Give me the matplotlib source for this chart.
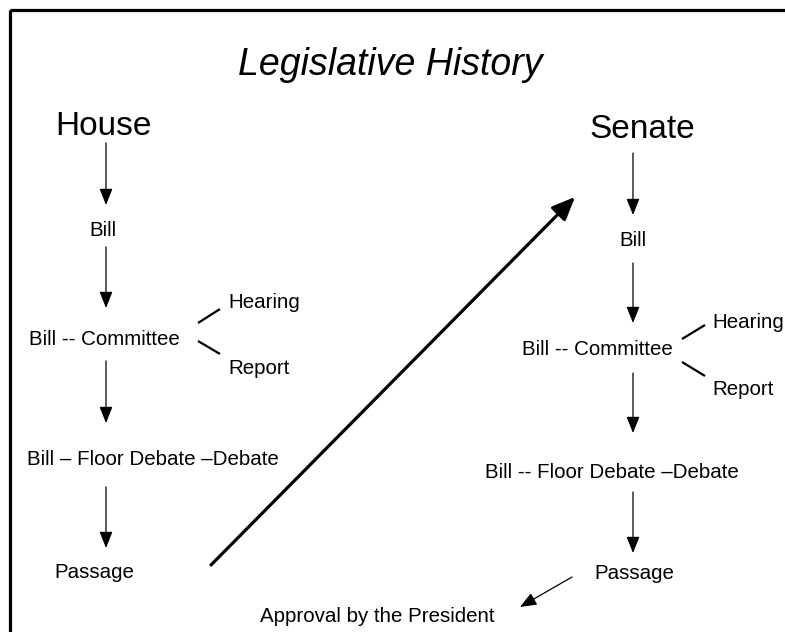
import matplotlib.pyplot as plt
from matplotlib.patches import Rectangle

plt.rcParams['font.family'] = ['Liberation Sans', 'DejaVu Sans']

# diagram content (pixel layout, y grows downward)
title = "Legislative History"
chambers = ["House", "Senate"]
chamber_x = [103, 642]
chamber_base = [135, 138]

# step labels: (text, x center, baseline y)
house_steps = [("Bill", 103, 236),
               ("Bill -- Committee", 104, 345),
               ("Bill \u2013 Floor Debate \u2013Debate", 153, 465),
               ("Passage", 94, 578)]
senate_steps = [("Bill", 633, 246),
                ("Bill -- Committee", 597, 355),
                ("Bill -- Floor Debate \u2013Debate", 612, 478),
                ("Passage", 634, 579)]

# side branches: (text, left x, baseline y)
branches = [("Hearing", 228, 308), ("Report", 228, 374),
            ("Hearing", 712, 328), ("Report", 712, 395)]
branch_lines = [((198, 323), (220, 309)), ((198, 341), (220, 354)),
                ((682, 339), (705, 325)), ((682, 362), (705, 376))]

# vertical arrows: (x, y start, y end)
house_arrows = [(106, 143, 205), (106, 247, 308), (106, 361, 423), (106, 487, 548)]
senate_arrows = [(633, 153, 215), (633, 263, 323), (633, 373, 433), (633, 492, 553)]

big_arrow = ((211, 565), (575, 197))
approval_arrow = ((572, 577), (520, 607))
approval = ("Approval by the President", 377, 622)

fig = plt.figure(figsize=(7.85, 6.32), dpi=100)
ax = fig.add_axes([0, 0, 1, 1])
ax.set_xlim(0, 785)
ax.set_ylim(632, 0)
ax.axis('off')

# frame (right and bottom edges run off the picture)
ax.add_patch(Rectangle((9.5, 9.5), 800, 700, fill=False, lw=2.3, ec='black'))

ax.text(390, 75, title, fontsize=27, style='italic', ha='center', va='baseline')

for name, x, y in zip(chambers, chamber_x, chamber_base):
    ax.text(x, y, name, fontsize=24, ha='center', va='baseline')

for txt, x, y in house_steps + senate_steps:
    ax.text(x, y, txt, fontsize=14.8, ha='center', va='baseline')

for txt, x, y in branches:
    ax.text(x, y, txt, fontsize=14.8, ha='left', va='baseline')

for (x0, y0), (x1, y1) in branch_lines:
    ax.plot([x0, x1], [y0, y1], color='black', lw=1.6, solid_capstyle='butt')

small = dict(arrowstyle='-|>,head_length=0.5,head_width=0.2', color='black',
             lw=0.9, mutation_scale=20, shrinkA=0, shrinkB=0)
for x, y0, y1 in house_arrows + senate_arrows:
    ax.annotate('', xy=(x, y1), xytext=(x, y0), arrowprops=small)

ax.annotate('', xy=approval_arrow[1], xytext=approval_arrow[0], arrowprops=small)

ax.annotate('', xy=big_arrow[1], xytext=big_arrow[0],
            arrowprops=dict(arrowstyle='-|>,head_length=0.7,head_width=0.3',
                            color='black', lw=2.3, mutation_scale=20,
                            shrinkA=0, shrinkB=0))

txt, x, y = approval
ax.text(x, y, txt, fontsize=14.8, ha='center', va='baseline')

fig.savefig('out.png', dpi=100)
